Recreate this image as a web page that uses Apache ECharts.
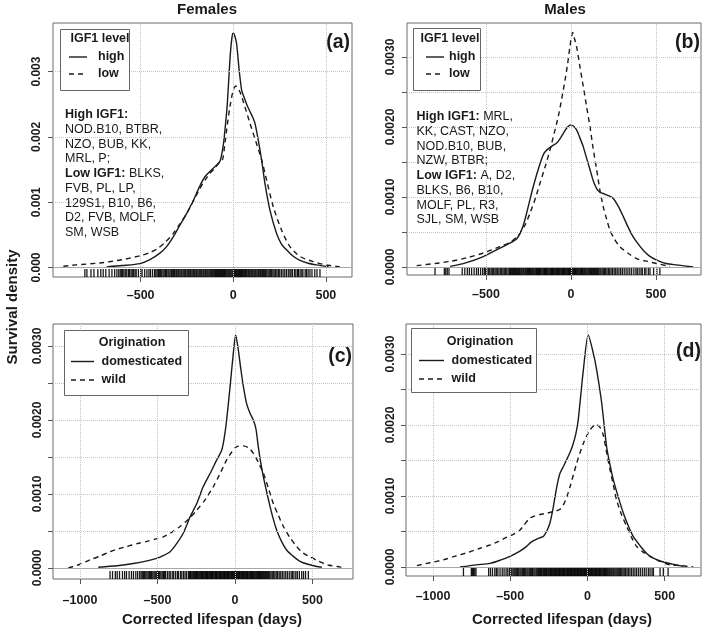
<!DOCTYPE html>
<html><head><meta charset="utf-8">
<script src="https://cdn.jsdelivr.net/npm/echarts@6/dist/echarts.min.js"></script>
<style>html,body{margin:0;padding:0;background:#fff}#c{width:709px;height:630px}</style>
</head><body><div id="c"></div>
<script>
// ---------- DATA ----------
// Panel (a) Females, IGF1 level: [corrected lifespan (days), survival density]
const femHigh = [[-683,0.00001],[-600,0.00003],[-503,0.00006],[-450,0.00012],[-396,0.00022],[-360,0.00032],[-324,0.00047],[-290,0.00064],[-251,0.00083],[-215,0.00103],[-180,0.00125],[-153,0.00139],[-130,0.00146],[-108,0.00152],[-85,0.00158],[-70,0.00164],[-55,0.00185],[-45,0.00210],[-32,0.00251],[-18,0.00318],[-8,0.00350],[0,0.00359],[8,0.00355],[18,0.00343],[32,0.00302],[45,0.00272],[54,0.00264],[75,0.00248],[90,0.00239],[105,0.00230],[117,0.00221],[135,0.00195],[153,0.00165],[171,0.00129],[198,0.00088],[234,0.00052],[260,0.00036],[288,0.00027],[320,0.00018],[360,0.00011],[400,0.00007],[450,0.00004],[515,0.00001]];
const femLow = [[-917,0.00002],[-850,0.00004],[-719,0.00007],[-600,0.00012],[-503,0.00018],[-450,0.00023],[-413,0.00028],[-370,0.00038],[-324,0.00052],[-290,0.00066],[-251,0.00083],[-215,0.00102],[-180,0.00121],[-150,0.00135],[-126,0.00144],[-100,0.00152],[-72,0.00162],[-57,0.00166],[-45,0.00190],[-36,0.00210],[-18,0.00246],[0,0.00272],[14,0.00278],[36,0.00269],[63,0.00246],[90,0.00221],[122,0.00193],[153,0.00165],[180,0.00134],[216,0.00093],[261,0.00057],[306,0.00032],[360,0.00017],[432,0.00009],[500,0.00004],[576,0.00001]];
// Panel (b) Males, IGF1 level
const maleHigh = [[-712,0.00001],[-620,0.00006],[-516,0.00015],[-418,0.00027],[-360,0.00034],[-320,0.00040],[-300,0.00048],[-280,0.00060],[-261,0.00077],[-222,0.00115],[-182,0.00148],[-160,0.00162],[-143,0.00167],[-110,0.00173],[-84,0.00177],[-60,0.00185],[-45,0.00191],[-20,0.00200],[0,0.00203],[15,0.00201],[33,0.00196],[50,0.00186],[72,0.00172],[90,0.00157],[112,0.00139],[130,0.00124],[151,0.00112],[170,0.00107],[190,0.00105],[220,0.00102],[249,0.00098],[280,0.00086],[308,0.00072],[336,0.00057],[366,0.00043],[395,0.00033],[425,0.00024],[460,0.00016],[504,0.00010],[560,0.00005],[622,0.00003],[719,0.00000]];
const maleLow = [[-908,0.00002],[-800,0.00005],[-712,0.00008],[-600,0.00014],[-516,0.00020],[-418,0.00029],[-360,0.00035],[-319,0.00043],[-300,0.00048],[-270,0.00060],[-241,0.00077],[-210,0.00098],[-182,0.00120],[-150,0.00145],[-124,0.00167],[-100,0.00190],[-75,0.00215],[-55,0.00240],[-35,0.00267],[-20,0.00290],[-6,0.00315],[10,0.00335],[22,0.00325],[33,0.00315],[50,0.00290],[72,0.00258],[92,0.00229],[112,0.00200],[130,0.00170],[151,0.00139],[170,0.00110],[190,0.00086],[210,0.00068],[229,0.00053],[255,0.00040],[288,0.00029],[340,0.00019],[386,0.00012],[450,0.00008],[504,0.00005],[582,0.00001]];
// Panel (c) Females, Origination
const femDom = [[-882,0.00001],[-760,0.00003],[-656,0.00006],[-560,0.00010],[-505,0.00013],[-460,0.00017],[-419,0.00022],[-380,0.00032],[-334,0.00047],[-290,0.00069],[-247,0.00087],[-205,0.00110],[-160,0.00128],[-118,0.00146],[-86,0.00159],[-70,0.00175],[-54,0.00200],[-32,0.00245],[-11,0.00290],[4,0.00315],[21,0.00295],[38,0.00268],[54,0.00245],[75,0.00222],[97,0.00209],[118,0.00200],[135,0.00188],[150,0.00164],[166,0.00142],[183,0.00123],[205,0.00102],[226,0.00083],[247,0.00066],[269,0.00051],[300,0.00036],[334,0.00024],[380,0.00015],[419,0.00009],[470,0.00005],[527,0.00002],[560,0.00001]];
const femWild = [[-1075,0.00000],[-1000,0.00005],[-935,0.00011],[-870,0.00016],[-806,0.00022],[-750,0.00026],[-699,0.00029],[-630,0.00033],[-570,0.00036],[-515,0.00039],[-463,0.00042],[-410,0.00048],[-355,0.00056],[-300,0.00066],[-247,0.00078],[-190,0.00093],[-140,0.00110],[-100,0.00126],[-54,0.00146],[-20,0.00157],[11,0.00164],[54,0.00165],[90,0.00162],[118,0.00155],[150,0.00143],[183,0.00128],[215,0.00108],[247,0.00087],[280,0.00071],[312,0.00056],[355,0.00041],[398,0.00029],[440,0.00020],[484,0.00015],[540,0.00009],[600,0.00004],[660,0.00002],[710,0.00000]];
// Panel (d) Males, Origination
const maleDom = [[-825,0.00000],[-720,0.00003],[-631,0.00005],[-560,0.00010],[-502,0.00015],[-440,0.00022],[-394,0.00029],[-365,0.00035],[-340,0.00038],[-310,0.00041],[-286,0.00043],[-265,0.00050],[-243,0.00062],[-225,0.00080],[-210,0.00099],[-195,0.00117],[-178,0.00132],[-155,0.00142],[-135,0.00151],[-110,0.00163],[-92,0.00174],[-75,0.00188],[-60,0.00207],[-27,0.00277],[5,0.00327],[38,0.00301],[60,0.00277],[92,0.00231],[124,0.00169],[145,0.00145],[167,0.00123],[200,0.00098],[232,0.00076],[264,0.00058],[296,0.00043],[340,0.00030],[383,0.00019],[430,0.00012],[491,0.00007],[550,0.00004],[620,0.00001]];
const maleWild = [[-1105,0.00002],[-1020,0.00006],[-933,0.00010],[-860,0.00015],[-782,0.00020],[-700,0.00026],[-631,0.00031],[-575,0.00036],[-523,0.00042],[-480,0.00046],[-437,0.00052],[-415,0.00058],[-372,0.00069],[-340,0.00072],[-307,0.00074],[-260,0.00076],[-221,0.00078],[-180,0.00081],[-157,0.00087],[-135,0.00098],[-113,0.00113],[-70,0.00146],[-27,0.00174],[16,0.00193],[55,0.00201],[80,0.00197],[102,0.00186],[125,0.00160],[146,0.00137],[168,0.00115],[189,0.00094],[220,0.00074],[254,0.00057],[285,0.00042],[318,0.00029],[360,0.00021],[405,0.00015],[470,0.00008],[534,0.00003],[600,0.00002],[685,0.00000]];

// Rug (individual corrected lifespans, days)
const rugA = [-801,-790,-768,-752,-731,-715,-702,-688,-670,-655,-640,-628,-618,-610,-603,-597,-590,-583,-575,-566,-560,-552,-545,-538,-530,-524,-512,-500,-492,-478,-466,-455,-447,-436,-425,-418,-411,-404,-399,-392,-386,-379,-373,-366,-361,-353,-347,-341,-334,-329,-322,-317,-310,-305,-299,-294,-288,-282,-277,-271,-265,-260,-255,-249,-243,-238,-232,-228,-222,-216,-211,-206,-200,-196,-190,-184,-179,-174,-169,-163,-158,-152,-148,-142,-137,-131,-126,-121,-116,-111,-105,-100,-95,-90,-85,-79,-74,-69,-64,-58,-53,-48,-43,-38,-33,-27,-22,-17,-12,-7,-2,3,8,13,18,24,29,34,39,44,49,54,60,65,70,75,81,86,91,97,102,107,113,118,123,129,135,140,146,151,157,163,169,175,181,188,194,200,207,214,221,229,236,244,251,260,269,278,287,297,306,312,320,331,338,347,352,361,370,376,388,395,404,414,425,440,452,468];
const rugB = [-800,-745,-737,-728,-718,-640,-625,-610,-598,-585,-570,-556,-545,-532,-520,-510,-503,-495,-486,-478,-470,-463,-455,-447,-440,-432,-424,-416,-408,-400,-393,-386,-378,-370,-362,-356,-350,-344,-338,-333,-327,-321,-316,-310,-304,-299,-293,-288,-282,-277,-271,-266,-260,-255,-250,-244,-239,-234,-228,-223,-218,-212,-207,-202,-197,-191,-186,-181,-176,-171,-165,-160,-155,-150,-145,-140,-135,-129,-124,-119,-114,-109,-104,-99,-94,-89,-84,-79,-74,-69,-64,-59,-54,-49,-44,-39,-34,-29,-24,-19,-14,-9,-4,1,6,11,16,21,26,31,36,41,46,52,57,62,67,72,78,83,88,94,99,105,110,116,121,127,133,139,145,151,157,163,170,176,183,190,197,204,212,220,228,236,245,254,263,272,282,292,302,313,324,335,346,357,370,382,390,401,412,420,433,441,455,465,486,505,523];
const rugC = [-806,-790,-772,-760,-745,-726,-712,-700,-683,-668,-655,-640,-628,-615,-606,-598,-590,-583,-575,-568,-560,-552,-545,-538,-530,-522,-515,-508,-500,-493,-486,-478,-470,-462,-455,-448,-436,-425,-418,-405,-396,-384,-372,-365,-352,-343,-332,-322,-312,-300,-294,-288,-283,-277,-271,-266,-260,-254,-249,-243,-238,-232,-227,-221,-216,-210,-205,-199,-194,-189,-183,-178,-173,-167,-162,-157,-151,-146,-141,-136,-130,-125,-120,-115,-110,-104,-99,-94,-89,-84,-79,-73,-68,-63,-58,-53,-48,-43,-38,-33,-27,-22,-17,-12,-7,-2,3,8,13,18,23,28,33,38,43,49,54,59,64,69,75,80,85,91,96,101,107,112,118,123,129,134,140,146,152,158,164,170,176,183,189,196,203,210,217,224,232,240,248,257,266,275,285,295,305,316,327,338,350,362,370,380,392,402,415,430,442,455,473];
const rugD = [-803,-752,-745,-738,-730,-722,-640,-628,-615,-600,-590,-580,-566,-552,-540,-527,-516,-505,-497,-490,-482,-475,-468,-460,-452,-445,-437,-430,-422,-415,-408,-400,-392,-385,-377,-370,-362,-355,-347,-340,-332,-325,-318,-311,-305,-299,-294,-288,-283,-277,-272,-266,-261,-255,-250,-244,-239,-234,-228,-223,-218,-212,-207,-202,-196,-191,-186,-181,-176,-170,-165,-160,-155,-150,-145,-140,-134,-129,-124,-119,-114,-109,-104,-99,-94,-89,-84,-79,-74,-69,-64,-59,-54,-49,-44,-39,-34,-29,-24,-19,-14,-9,-4,1,6,11,16,21,26,31,36,41,47,52,57,62,67,73,78,83,89,94,100,105,111,116,122,128,134,140,146,152,158,165,171,178,185,192,199,206,214,222,230,238,247,256,265,275,285,296,307,318,330,342,355,368,380,394,405,418,427,470,491,522];

// Tick values
const xTicksTop = [-500, 0, 500];
const xTicksBottom = [-1000, -500, 0, 500];
const yTicksA = [0, 0.001, 0.002, 0.003];
const yTicksHalf = [0, 0.0005, 0.001, 0.0015, 0.002, 0.0025, 0.003];
const yLabels = [0, 0.001, 0.002, 0.003];

// ---------- LAYOUT ----------
const FF = "'Liberation Sans', Arial, Helvetica, sans-serif";
const INK = '#1a1a1a';
const panels = [
  {grid:{left:53, top:23, width:299, height:254}, xr:[-973, 641], yr:[-0.000145, 0.003744], xt:xTicksTop, yt:yTicksA, yl:yTicksA, dec:3, lm:12, ylm:10, curves:[femHigh, femLow], rug:rugA, ygrid:[0.001,0.002,0.003]},
  {grid:{left:407, top:23, width:294, height:252}, xr:[-965, 765], yr:[-0.000114, 0.003486], xt:xTicksTop, yt:yTicksHalf, yl:yLabels, dec:4, lm:13, ylm:10, curves:[maleHigh, maleLow], rug:rugB, ygrid:[0.0005,0.001,0.0015,0.002,0.0025,0.003]},
  {grid:{left:53, top:324, width:300, height:255}, xr:[-1174, 761], yr:[-0.000149, 0.003297], xt:xTicksBottom, yt:yTicksHalf, yl:yLabels, dec:4, lm:15, ylm:9, curves:[femDom, femWild], rug:rugC, ygrid:[0.0005,0.001,0.0015,0.002,0.0025,0.003]},
  {grid:{left:406, top:324, width:295, height:252}, xr:[-1175, 735], yr:[-0.000127, 0.003423], xt:xTicksBottom, yt:yTicksHalf, yl:yLabels, dec:4, lm:14, ylm:9, curves:[maleDom, maleWild], rug:rugD, ygrid:[0.0005,0.001,0.0015,0.002,0.0025,0.003]}
];

const grids = [], xAxes = [], yAxes = [], series = [];
panels.forEach((p, i) => {
  grids.push(Object.assign({show:true, borderColor:'#6a6a6a', borderWidth:1, backgroundColor:'transparent'}, p.grid));
  xAxes.push({gridIndex:i, type:'value', min:p.xr[0], max:p.xr[1],
    axisLine:{show:false, onZero:false},
    axisTick:{show:true, customValues:p.xt, length:5, lineStyle:{color:'#555', width:1}},
    axisLabel:{customValues:p.xt, margin:p.lm, color:INK, fontFamily:FF, fontWeight:'bold', fontSize:12.5,
      formatter:v => v < 0 ? '\u2013' + Math.abs(v) : String(v)},
    splitLine:{show:false}});
  yAxes.push({gridIndex:i, type:'value', min:p.yr[0], max:p.yr[1],
    axisLine:{show:false, onZero:false},
    axisTick:{show:true, customValues:p.yt, length:5, lineStyle:{color:'#555', width:1}},
    axisLabel:{customValues:p.yl, rotate:90, margin:p.ylm, color:INK, fontFamily:FF, fontWeight:'bold', fontSize:12,
      formatter:v => v.toFixed(p.dec)},
    splitLine:{show:false}});
  // grid lines (dotted) + zero line (solid gray), as coordinate pairs
  const gl = [];
  p.xt.forEach(v => gl.push([{coord:[v, p.yr[0]]}, {coord:[v, p.yr[1]]}]));
  p.ygrid.forEach(v => gl.push([{coord:[p.xr[0], v]}, {coord:[p.xr[1], v]}]));
  gl.push([{coord:[p.xr[0], 0], lineStyle:{type:'solid', color:'#a8a8a8', width:1}}, {coord:[p.xr[1], 0]}]);
  series.push({type:'line', xAxisIndex:i, yAxisIndex:i, data:[], z:1, silent:true,
    markLine:{silent:true, symbol:['none','none'], label:{show:false}, animation:false,
      lineStyle:{type:'dotted', color:'#c4c4c4', width:1}, data:gl}});
  // density curves
  p.curves.forEach((c, k) => {
    series.push({type:'line', xAxisIndex:i, yAxisIndex:i, data:c, showSymbol:false, symbol:'none',
      smooth:0.25, z:3, silent:true,
      lineStyle:{color:INK, width:1.4, type: k === 0 ? 'solid' : [5, 4]}});
  });
  // rug
  series.push({type:'scatter', xAxisIndex:i, yAxisIndex:i, z:2, silent:true, clip:false,
    data:p.rug.map(v => [v, p.yr[0]]), symbol:'rect', symbolSize:[1.3, 8], symbolOffset:[0, -4],
    itemStyle:{color:'#000', opacity:0.9}});
});

// ---------- TEXT / LEGENDS ----------
function txt(x, y, s, size, weight, align, va, rot) {
  return {type:'text', x:x, y:y, rotation:rot || 0, silent:true, z:10,
    style:{text:s, font:(weight||'bold') + ' ' + size + 'px ' + FF, fill:INK,
      align:align||'center', verticalAlign:va||'middle', textAlign:align||'center', textVerticalAlign:va||'middle'}};
}
function legend(box, title, tcx, tcy, items, lx0, lx1, tx) {
  const g = [{type:'rect', silent:true, z:10, shape:{x:box[0], y:box[1], width:box[2]-box[0], height:box[3]-box[1]},
    style:{fill:'#fff', stroke:'#666', lineWidth:1}}];
  g.push(txt(tcx, tcy, title, 12.5, 'bold'));
  items.forEach(it => {
    g.push({type:'line', silent:true, z:11, shape:{x1:lx0, y1:it.y, x2:lx1, y2:it.y},
      style:{stroke:INK, lineWidth:1.4, lineDash: it.dash ? [5, 4] : null}});
    g.push(txt(tx, it.y, it.label, 12.5, 'bold', 'left'));
  });
  return g;
}
function annot(x, y, lines) {
  const parts = lines.map(l => l.b ? '{b|' + l.b + '}' + (l.n ? '{n|' + l.n + '}' : '') : '{n|' + l.n + '}');
  return {type:'text', x:x, y:y, silent:true, z:10,
    style:{text:parts.join('\n'), align:'left', verticalAlign:'top', textAlign:'left', textVerticalAlign:'top',
      rich:{b:{fontFamily:FF, fontWeight:'bold', fontSize:12.5, lineHeight:14.7, fill:INK, color:INK},
            n:{fontFamily:FF, fontWeight:'normal', fontSize:12.5, lineHeight:14.7, fill:INK, color:INK}}}};
}

const graphic = [
  txt(207, 10, 'Females', 15, 'bold'),
  txt(565, 10, 'Males', 15, 'bold'),
  txt(13, 307, 'Survival density', 15, 'bold', 'center', 'middle', Math.PI/2),
  txt(212, 620, 'Corrected lifespan (days)', 15, 'bold'),
  txt(562, 620, 'Corrected lifespan (days)', 15, 'bold'),
  txt(350, 43, '(a)', 19.5, 'bold', 'right'),
  txt(700, 43, '(b)', 19.5, 'bold', 'right'),
  txt(352, 357, '(c)', 19.5, 'bold', 'right'),
  txt(701, 352, '(d)', 19.5, 'bold', 'right'),
  ...legend([60.5, 29.5, 129.5, 90.5], 'IGF1 level', 100, 39, [{label:'high', y:57}, {label:'low', y:74, dash:true}], 69, 87, 98),
  ...legend([413.5, 28.5, 480.5, 90.5], 'IGF1 level', 450, 39, [{label:'high', y:57}, {label:'low', y:74, dash:true}], 426, 444, 449),
  ...legend([64.5, 330.5, 188.5, 395.5], 'Origination', 132, 343, [{label:'domesticated', y:361.5}, {label:'wild', y:380, dash:true}], 71, 94, 101.5),
  ...legend([411.5, 328.5, 536.5, 392.5], 'Origination', 480, 341.5, [{label:'domesticated', y:360.5}, {label:'wild', y:379, dash:true}], 419, 444, 451.5),
  annot(65, 107.5, [{b:'High IGF1:'}, {n:'NOD.B10, BTBR,'}, {n:'NZO, BUB, KK,'}, {n:'MRL, P;'}, {b:'Low IGF1: ', n:'BLKS,'}, {n:'FVB, PL, LP,'}, {n:'129S1, B10, B6,'}, {n:'D2, FVB, MOLF,'}, {n:'SM, WSB'}]),
  annot(416.5, 109.5, [{b:'High IGF1: ', n:'MRL,'}, {n:'KK, CAST, NZO,'}, {n:'NOD.B10, BUB,'}, {n:'NZW, BTBR;'}, {b:'Low IGF1: ', n:'A, D2,'}, {n:'BLKS, B6, B10,'}, {n:'MOLF, PL, R3,'}, {n:'SJL, SM, WSB'}])
];

const chart = echarts.init(document.getElementById('c'), null, {renderer:'canvas'});
chart.setOption({animation:false, backgroundColor:'#fff', grid:grids, xAxis:xAxes, yAxis:yAxes, series:series, graphic:graphic});
</script></body></html>
